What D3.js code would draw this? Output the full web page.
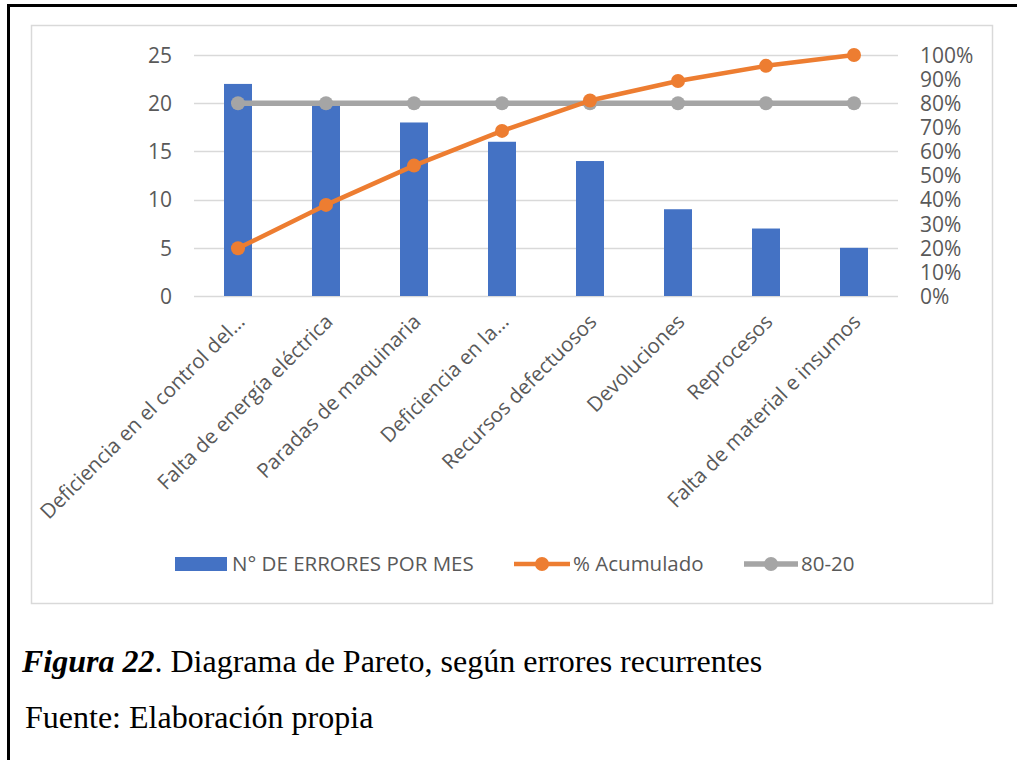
<!DOCTYPE html>
<html>
<head>
<meta charset="utf-8">
<script src="https://cdn.jsdelivr.net/npm/d3@7"></script>
<style>
  html, body { margin: 0; padding: 0; background: #fff; }
  svg { display: block; }
</style>
</head>
<body>
<svg id="chart" width="1017" height="760"></svg>
<script>
// Pareto data: errors per month and cumulative share
const categories = [
  "Deficiencia en el control del…",
  "Falta de energía eléctrica",
  "Paradas de maquinaria",
  "Deficiencia en la…",
  "Recursos defectuosos",
  "Devoluciones",
  "Reprocesos",
  "Falta de material e insumos"
];
const errorsPerMonth = [22, 20, 18, 16, 14, 9, 7, 5];
const cumulativePct = [0.198, 0.378, 0.541, 0.685, 0.811, 0.892, 0.955, 1.0];
const threshold = [0.8, 0.8, 0.8, 0.8, 0.8, 0.8, 0.8, 0.8];
const leftTicks = [0, 5, 10, 15, 20, 25];
const rightTicks = [0, 0.1, 0.2, 0.3, 0.4, 0.5, 0.6, 0.7, 0.8, 0.9, 1.0];
const seriesNames = ["N° DE ERRORES POR MES", "% Acumulado", "80-20"];

const svg = d3.select("#chart");
const font = "'Open Sans', 'Liberation Sans', sans-serif";
const serif = "'Liberation Serif', 'Times New Roman', serif";
const textColor = "#595959";

// page frame
svg.append("path")
  .attr("d", "M8.5,770 L8.5,5.5 L1030,5.5")
  .attr("fill", "none").attr("stroke", "#000").attr("stroke-width", 3);

// chart container border
svg.append("rect")
  .attr("x", 31.5).attr("y", 25.5).attr("width", 961).attr("height", 578)
  .attr("fill", "#fff").attr("stroke", "#d9d9d9").attr("stroke-width", 1.5);

const plot = { left: 194, right: 898, top: 55, bottom: 296 };

const x = d3.scaleBand().domain(categories).range([plot.left, plot.right]);
const yL = d3.scaleLinear().domain([0, 25]).range([plot.bottom, plot.top]);
const yR = d3.scaleLinear().domain([0, 1]).range([plot.bottom, plot.top]);

// gridlines
svg.append("g").selectAll("line").data(leftTicks).join("line")
  .attr("x1", plot.left).attr("x2", plot.right)
  .attr("y1", d => Math.round(yL(d)) + 0.5).attr("y2", d => Math.round(yL(d)) + 0.5)
  .attr("stroke", "#d9d9d9").attr("stroke-width", d => d === 0 ? 1.6 : 1.3);

// left axis
const axL = svg.append("g").attr("transform", `translate(${plot.left - 22},0)`)
  .call(d3.axisLeft(yL).tickValues(leftTicks).tickSize(0).tickPadding(0));
axL.select(".domain").remove();
axL.selectAll("text").attr("font-family", font).attr("font-size", 21)
  .attr("fill", textColor).attr("dy", "0.35em");

// right axis
const axR = svg.append("g").attr("transform", `translate(${plot.right + 22},0)`)
  .call(d3.axisRight(yR).tickValues(rightTicks).tickSize(0).tickPadding(0)
    .tickFormat(d3.format(".0%")));
axR.select(".domain").remove();
axR.selectAll("text").attr("font-family", font).attr("font-size", 21)
  .attr("fill", textColor).attr("dy", "0.35em");

// bars
const barW = 28;
svg.append("g").selectAll("rect").data(errorsPerMonth).join("rect")
  .attr("x", (d, i) => x(categories[i]) + x.bandwidth() / 2 - barW / 2)
  .attr("y", d => yL(d))
  .attr("width", barW)
  .attr("height", d => yL(0) - yL(d))
  .attr("fill", "#4472c4");

const cx = (d, i) => x(categories[i]) + x.bandwidth() / 2;

// 80-20 reference line
svg.append("path").datum(threshold)
  .attr("d", d3.line().x(cx).y(d => yR(d)))
  .attr("fill", "none").attr("stroke", "#a5a5a5").attr("stroke-width", 5.5);
svg.append("g").selectAll("circle").data(threshold).join("circle")
  .attr("cx", cx).attr("cy", d => yR(d)).attr("r", 7).attr("fill", "#a5a5a5");

// cumulative line
svg.append("path").datum(cumulativePct)
  .attr("d", d3.line().x(cx).y(d => yR(d)))
  .attr("fill", "none").attr("stroke", "#ed7d31").attr("stroke-width", 4.5)
  .attr("stroke-linejoin", "round");
svg.append("g").selectAll("circle").data(cumulativePct).join("circle")
  .attr("cx", cx).attr("cy", d => yR(d)).attr("r", 7).attr("fill", "#ed7d31");

// category labels, rotated
svg.append("g").selectAll("text").data(categories).join("text")
  .attr("transform", (d, i) => `translate(${cx(d, i) + 8},${plot.bottom + 27}) rotate(-45)`)
  .attr("text-anchor", "end")
  .attr("font-family", font).attr("font-size", 20.5).attr("fill", textColor)
  .text(d => d);

// legend
const lg = svg.append("g").attr("font-family", font).attr("font-size", 20.5).attr("fill", textColor);
lg.append("rect").attr("x", 175).attr("y", 557).attr("width", 52).attr("height", 14).attr("fill", "#4472c4");
lg.append("text").attr("x", 232).attr("y", 564).attr("dy", "0.35em").text(seriesNames[0]);
lg.append("line").attr("x1", 514).attr("x2", 570).attr("y1", 564).attr("y2", 564)
  .attr("stroke", "#ed7d31").attr("stroke-width", 4.5);
lg.append("circle").attr("cx", 542).attr("cy", 564).attr("r", 7).attr("fill", "#ed7d31");
lg.append("text").attr("x", 573).attr("y", 564).attr("dy", "0.35em").text(seriesNames[1]);
lg.append("line").attr("x1", 744).attr("x2", 798).attr("y1", 564).attr("y2", 564)
  .attr("stroke", "#a5a5a5").attr("stroke-width", 5.5);
lg.append("circle").attr("cx", 771).attr("cy", 564).attr("r", 7).attr("fill", "#a5a5a5");
lg.append("text").attr("x", 801).attr("y", 564).attr("dy", "0.35em").text(seriesNames[2]);

// caption
const cap = svg.append("text").attr("x", 22).attr("y", 672)
  .attr("font-family", serif).attr("font-size", 32).attr("fill", "#000");
cap.append("tspan").attr("font-weight", "bold").attr("font-style", "italic").text("Figura 22");
cap.append("tspan").text(". Diagrama de Pareto, según errores recurrentes");

svg.append("text").attr("x", 25).attr("y", 728)
  .attr("font-family", serif).attr("font-size", 32).attr("fill", "#000")
  .text("Fuente: Elaboración propia");
</script>
</body>
</html>
